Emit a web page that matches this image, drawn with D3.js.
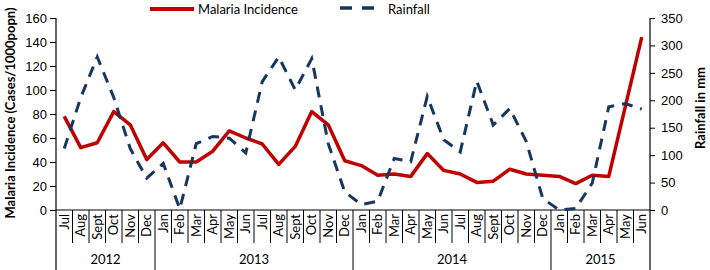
<!DOCTYPE html>
<html>
<head>
<meta charset="utf-8">
<style>
  body { margin: 0; background: #fff; }
  svg { font-family: Lato, "Open Sans", sans-serif; }
</style>
</head>
<body>
<div id="chart"></div>
<script src="https://cdn.jsdelivr.net/npm/d3@7"></script>
<script>
// month categories, Jul 2012 .. Jun 2015
var months = ["Jul","Aug","Sept","Oct","Nov","Dec",
  "Jan","Feb","Mar","Apr","May","Jun","Jul","Aug","Sept","Oct","Nov","Dec",
  "Jan","Feb","Mar","Apr","May","Jun","Jul","Aug","Sept","Oct","Nov","Dec",
  "Jan","Feb","Mar","Apr","May","Jun"];
var years = ["2012", "2013", "2014", "2015"];
var yearSpans = [6, 12, 12, 6];   // months per year group

// malaria incidence, cases / 1000 popn (left axis)
var malaria = [78, 52, 56, 82, 71, 42,
  56, 40, 40, 49, 66, 60, 55, 38, 53, 82, 71, 41,
  37, 29, 30, 28, 47, 33, 30, 23, 24, 34, 30, 29,
  28, 22, 29, 28, 86, 144];

// rainfall in mm (right axis)
var rainfall = [112, 205, 279, 205, 112, 58,
  85, 2, 121, 134, 131, 104, 234, 279, 219, 276, 121, 33,
  10, 16, 94, 88, 207, 128, 106, 235, 155, 185, 125, 21,
  0, 3, 49, 188, 194, 184];

var leftTicks = [0, 20, 40, 60, 80, 100, 120, 140, 160];
var rightTicks = [0, 50, 100, 150, 200, 250, 300, 350];

var W = 710, H = 270;
var plotLeft = 56, plotRight = 650, plotTop = 18, plotBottom = 210;

var svg = d3.select("#chart").append("svg")
  .attr("width", W).attr("height", H);

var x = d3.scaleBand()
  .domain(d3.range(months.length))
  .range([plotLeft, plotRight])
  .padding(0);

var yL = d3.scaleLinear().domain([0, 160]).range([plotBottom, plotTop]);
var yR = d3.scaleLinear().domain([0, 350]).range([plotBottom, plotTop]);

var cx = function(i) { return x(i) + x.bandwidth() / 2; };

// left axis
svg.append("g")
  .attr("transform", "translate(" + plotLeft + ",0)")
  .call(d3.axisLeft(yL).tickValues(leftTicks).tickSize(6).tickSizeOuter(0).tickPadding(3))
  .call(g => g.select(".domain").remove())
  .call(g => g.selectAll("text").style("font-size", "13px").style("fill", "#000"));

// right axis
svg.append("g")
  .attr("transform", "translate(" + plotRight + ",0)")
  .call(d3.axisRight(yR).tickValues(rightTicks).tickSize(5).tickSizeOuter(0).tickPadding(6))
  .call(g => g.select(".domain").remove())
  .call(g => g.selectAll("text").style("font-size", "13px").style("fill", "#000"));

// vertical axis lines running down through the category area
svg.append("line").attr("x1", plotLeft).attr("x2", plotLeft).attr("y1", plotTop).attr("y2", H)
  .attr("stroke", "#000").attr("stroke-width", 1.2);
svg.append("line").attr("x1", plotRight).attr("x2", plotRight).attr("y1", plotTop).attr("y2", H)
  .attr("stroke", "#000").attr("stroke-width", 1.2);

// baseline
svg.append("line").attr("x1", plotLeft).attr("x2", plotRight).attr("y1", plotBottom).attr("y2", plotBottom)
  .attr("stroke", "#000").attr("stroke-width", 1.2);

// month separators
var yearStarts = [];
var acc = 0;
yearSpans.forEach(function(n) { yearStarts.push(acc); acc += n; });

svg.append("g").selectAll("line")
  .data(d3.range(1, months.length))
  .enter().append("line")
  .attr("x1", d => x(d)).attr("x2", d => x(d))
  .attr("y1", plotBottom)
  .attr("y2", d => yearStarts.indexOf(d) >= 0 ? H : 243)
  .attr("stroke", "#000").attr("stroke-width", 1);

// month labels
svg.append("g").selectAll("text")
  .data(months)
  .enter().append("text")
  .attr("transform", (d, i) => "translate(" + (cx(i) + 4.5) + "," + (plotBottom + 4) + ") rotate(-90)")
  .attr("text-anchor", "end")
  .style("font-size", "13px")
  .text(d => d);

// year labels
svg.append("g").selectAll("text")
  .data(years)
  .enter().append("text")
  .attr("x", (d, i) => (x(yearStarts[i]) + x(yearStarts[i] + yearSpans[i] - 1) + x.bandwidth()) / 2)
  .attr("y", 264)
  .attr("text-anchor", "middle")
  .style("font-size", "13px")
  .text(d => d);

// malaria line
svg.append("path").datum(malaria)
  .attr("fill", "none")
  .attr("stroke", "#c00000")
  .attr("stroke-width", 3.5)
  .attr("stroke-linejoin", "round")
  .attr("d", d3.line().x((d, i) => cx(i)).y(d => yL(d)));

// rainfall line
svg.append("path").datum(rainfall)
  .attr("fill", "none")
  .attr("stroke", "#17375e")
  .attr("stroke-width", 3)
  .attr("stroke-dasharray", "11,8")
  .attr("d", d3.line().x((d, i) => cx(i)).y(d => yR(d)));

// axis titles
svg.append("text")
  .attr("transform", "translate(15,113) rotate(-90)")
  .attr("text-anchor", "middle")
  .style("font-size", "13px").style("font-weight", "bold")
  .text("Malaria Incidence (Cases/1000popn)");

svg.append("text")
  .attr("transform", "translate(705,108) rotate(-90)")
  .attr("text-anchor", "middle")
  .style("font-size", "13px").style("font-weight", "bold")
  .text("Rainfall in mm");

// legend
var lg = svg.append("g");
lg.append("line").attr("x1", 150).attr("x2", 194).attr("y1", 9).attr("y2", 9)
  .attr("stroke", "#c00000").attr("stroke-width", 4);
lg.append("text").attr("x", 198).attr("y", 13.5).style("font-size", "13px").text("Malaria Incidence");
lg.append("line").attr("x1", 340).attr("x2", 376).attr("y1", 8).attr("y2", 8)
  .attr("stroke", "#17375e").attr("stroke-width", 3.5).attr("stroke-dasharray", "12,10");
lg.append("text").attr("x", 388).attr("y", 13.5).style("font-size", "13px").text("Rainfall");
</script>
</body>
</html>
